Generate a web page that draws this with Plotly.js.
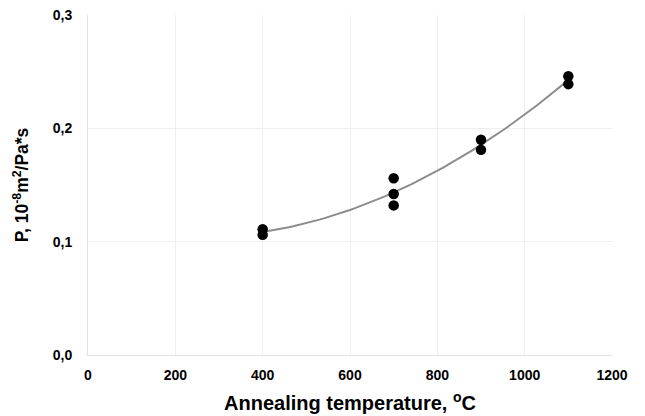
<!DOCTYPE html>
<html>
<head>
<meta charset="utf-8">
<script src="https://cdn.plot.ly/plotly-3.0.1.min.js"></script>
<style>html,body{margin:0;padding:0;background:#fff}#chart{width:645px;height:416px}</style>
</head>
<body>
<div id="chart"></div>
<script>
const temperatures = [400, 400, 700, 700, 700, 900, 900, 1100, 1100];
const permeability = [0.111, 0.106, 0.156, 0.142, 0.132, 0.190, 0.181, 0.246, 0.239];
const xTicks = [0, 200, 400, 600, 800, 1000, 1200];
const yTicks = [0, 0.1, 0.2, 0.3];
const yTickText = ["0,0", "0,1", "0,2", "0,3"];

// 2nd-order polynomial trendline (least squares)
function polyFit2(xs, ys) {
  const S = [0, 0, 0, 0, 0], T = [0, 0, 0];
  for (let i = 0; i < xs.length; i++) {
    let p = 1;
    for (let k = 0; k <= 4; k++) { S[k] += p; if (k <= 2) T[k] += p * ys[i]; p *= xs[i]; }
  }
  const M = [[S[0], S[1], S[2], T[0]], [S[1], S[2], S[3], T[1]], [S[2], S[3], S[4], T[2]]];
  for (let c = 0; c < 3; c++) {
    for (let r = c + 1; r < 3; r++) {
      const f = M[r][c] / M[c][c];
      for (let k = c; k < 4; k++) M[r][k] -= f * M[c][k];
    }
  }
  const coef = [0, 0, 0];
  for (let r = 2; r >= 0; r--) {
    let s = M[r][3];
    for (let k = r + 1; k < 3; k++) s -= M[r][k] * coef[k];
    coef[r] = s / M[r][r];
  }
  return coef;
}
const cf = polyFit2(temperatures, permeability);
const xMin = Math.min(...temperatures), xMax = Math.max(...temperatures);
const fitX = [], fitY = [];
for (let k = 0; k <= 70; k++) {
  const x = xMin + (xMax - xMin) * k / 70;
  fitX.push(x); fitY.push(cf[0] + cf[1] * x + cf[2] * x * x);
}

const font = {family: "Liberation Sans, Arial, sans-serif", color: "#000"};
const data = [
  {x: fitX, y: fitY, mode: "lines", line: {color: "#8c8c8c", width: 2}, hoverinfo: "skip"},
  {x: temperatures, y: permeability, mode: "markers", marker: {color: "#000", size: 10.5}}
];
const layout = {
  width: 645, height: 416,
  margin: {l: 88, r: 33, t: 15, b: 61},
  showlegend: false,
  paper_bgcolor: "#fff", plot_bgcolor: "#fff",
  xaxis: {
    range: [0, 1200], tickvals: xTicks, ticktext: xTicks.map(String),
    showgrid: true, gridcolor: "#efefef", gridwidth: 1, zeroline: false,
    showline: true, linecolor: "#e2e2e2", linewidth: 1,
    ticks: "outside", ticklen: 7, tickcolor: "rgba(0,0,0,0)",
    tickfont: Object.assign({size: 14, weight: "bold"}, font),
    automargin: false,
    title: {text: "<b>Annealing temperature, <sup>o</sup>C</b>", font: Object.assign({size: 20}, font), standoff: 14}
  },
  yaxis: {
    range: [0, 0.3], tickvals: yTicks, ticktext: yTickText,
    showgrid: true, gridcolor: "#efefef", gridwidth: 1, zeroline: false,
    showline: true, linecolor: "#e2e2e2", linewidth: 1,
    ticks: "outside", ticklen: 12, tickcolor: "rgba(0,0,0,0)",
    tickfont: Object.assign({size: 14, weight: "bold"}, font),
    automargin: false,
    title: {text: "<b>P, 10<sup>-8</sup>m<sup>2</sup>/Pa*s</b>", font: Object.assign({size: 17.5}, font), standoff: 19}
  }
};
Plotly.newPlot("chart", data, layout, {displayModeBar: false, staticPlot: true});
</script>
</body>
</html>
